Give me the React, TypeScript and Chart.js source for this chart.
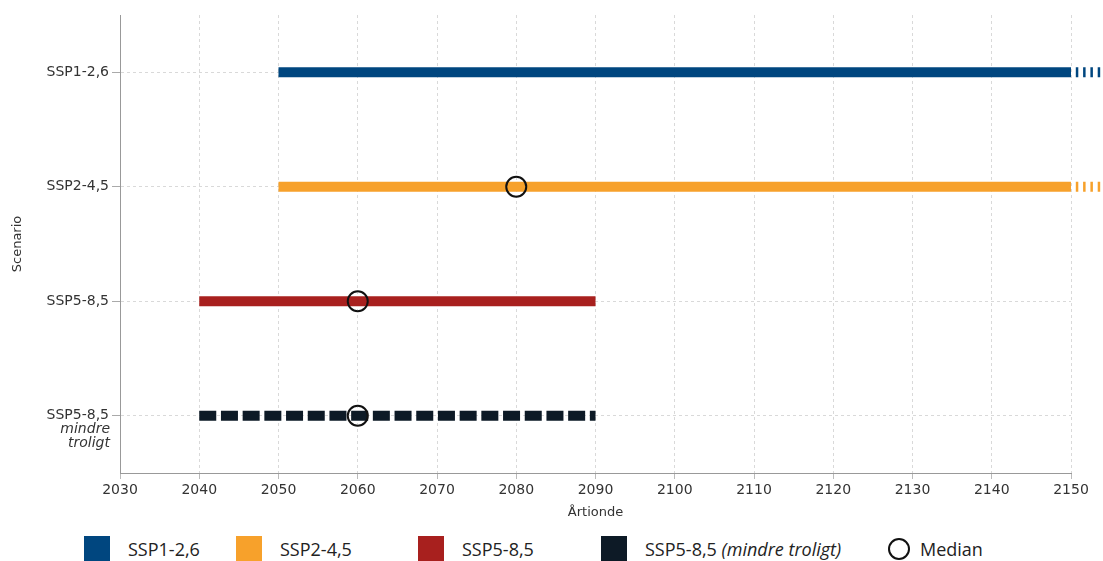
import React, { useEffect, useRef } from 'react';
import { Chart, registerables } from 'chart.js';

Chart.register(...registerables);

// ---- data ----
const scenarios = ['SSP1-2,6', 'SSP2-4,5', 'SSP5-8,5', 'SSP5-8,5 mindre troligt'];
const tickLabels = ['SSP1-2,6', 'SSP2-4,5', 'SSP5-8,5', 'SSP5-8,5'];
const subLabels: string[][] = [[], [], [], ['mindre', 'troligt']];
const rangeStart = [2050, 2050, 2040, 2040];
const rangeEnd = [2150, 2150, 2090, 2090];
const continuesBeyond = [true, true, false, false];
const extensionEnd = 2154;
const medianYears: (number | null)[] = [null, 2080, 2060, 2060];
const dashedRange = [false, false, false, true];
const colors = ['#00467f', '#f7a12b', '#a8201e', '#0d1a26'];
const legendLabels = ['SSP1-2,6', 'SSP2-4,5', 'SSP5-8,5', 'SSP5-8,5'];
const legendItalic = ['', '', '', '(mindre troligt)'];
const medianLabel = 'Median';
const xTitle = 'Årtionde';
const yTitle = 'Scenario';
const xMin = 2030;
const xMax = 2150;
const xStep = 10;

const FONT = '"DejaVu Sans", Verdana, sans-serif';
const TEXT = '#333';

const subLabelPlugin = {
  id: 'subLabels',
  afterDraw(chart: any) {
    const y = chart.scales.y;
    const ctx = chart.ctx;
    ctx.save();
    ctx.font = 'italic 14px ' + FONT;
    ctx.fillStyle = TEXT;
    ctx.textAlign = 'right';
    ctx.textBaseline = 'middle';
    scenarios.forEach((_, i) => {
      const py = y.getPixelForValue(i);
      subLabels[i].forEach((t, j) => ctx.fillText(t, y.right - 10, py + 14 * (j + 1)));
    });
    ctx.restore();
  },
};

export default function App() {
  const ref = useRef<HTMLCanvasElement | null>(null);

  useEffect(() => {
    if (!ref.current) return;
    const datasets: any[] = [];
    datasets.push({
      type: 'scatter',
      label: medianLabel,
      data: scenarios
        .map((s, i) => (medianYears[i] == null ? null : { x: medianYears[i], y: s }))
        .filter((d) => d !== null),
      pointRadius: 10,
      pointHoverRadius: 10,
      pointStyle: 'circle',
      borderColor: '#111',
      borderWidth: 2,
      backgroundColor: 'rgba(0,0,0,0)',
      showLine: false,
      order: 0,
    });
    scenarios.forEach((s, i) => {
      datasets.push({
        type: 'line',
        label: s,
        data: [
          { x: rangeStart[i], y: s },
          { x: rangeEnd[i], y: s },
        ],
        borderColor: colors[i],
        borderWidth: 10,
        borderCapStyle: 'butt',
        borderDash: dashedRange[i] ? [17, 4.7] : [],
        pointRadius: 0,
        order: 1,
      });
      if (continuesBeyond[i]) {
        datasets.push({
          type: 'line',
          label: s + ' ext',
          data: [
            { x: rangeEnd[i], y: s },
            { x: extensionEnd, y: s },
          ],
          borderColor: colors[i],
          borderWidth: 10,
          borderCapStyle: 'butt',
          borderDash: [2.5, 4.8],
          borderDashOffset: 2.5,
          pointRadius: 0,
          clip: false,
          order: 1,
        });
      }
    });

    const chart = new Chart(ref.current, {
      type: 'line',
      data: { labels: scenarios, datasets },
      plugins: [subLabelPlugin],
      options: {
        animation: false,
        responsive: false,
        devicePixelRatio: 1,
        layout: { padding: { top: 15, right: 32, left: 0, bottom: 0 } },
        plugins: { legend: { display: false }, tooltip: { enabled: false } },
        scales: {
          x: {
            type: 'linear',
            min: xMin,
            max: xMax,
            ticks: {
              stepSize: xStep,
              padding: 3,
              color: TEXT,
              font: { family: FONT, size: 14 },
              callback: (v: any) => String(v),
            },
            afterBuildTicks: (axis: any) => {
              axis.ticks = axis.ticks.filter((t: any) => t.value % xStep === 0);
            },
            afterFit: (scale: any) => {
              scale.height = 52;
            },
            grid: { color: '#d9d9d9', drawTicks: true, tickLength: 6, tickColor: '#bbb' },
            border: { color: '#999', width: 1, dash: [3, 3] },
            title: {
              display: true,
              text: xTitle,
              color: TEXT,
              font: { family: FONT, size: 13 },
              padding: { top: 0, bottom: 5 },
            },
          },
          y: {
            type: 'category',
            labels: scenarios,
            offset: true,
            ticks: {
              color: TEXT,
              padding: 3,
              font: { family: FONT, size: 14 },
              callback: (_v: any, i: number) => tickLabels[i],
            },
            afterFit: (scale: any) => {
              scale.width = 120;
            },
            grid: { color: '#d9d9d9', offset: false, tickLength: 8, tickColor: '#aaa' },
            border: { color: '#999', width: 1, dash: [3, 3] },
            title: {
              display: true,
              text: yTitle,
              color: TEXT,
              font: { family: FONT, size: 13 },
              padding: { top: 10, bottom: 4 },
            },
          },
        },
      },
    });
    return () => chart.destroy();
  }, []);

  const itemLefts = [84, 236, 418, 601];
  return (
    <div style={{ position: 'absolute', left: 0, top: 0, width: 1103, height: 561, overflow: 'hidden', background: '#fff' }}>
      <canvas ref={ref} width={1103} height={525} style={{ display: 'block' }} />
      {legendLabels.map((l, i) => (
        <div
          key={i}
          style={{
            position: 'absolute',
            left: itemLefts[i],
            top: 536,
            display: 'flex',
            alignItems: 'flex-start',
            fontFamily: '"Open Sans", sans-serif',
            fontSize: 18,
            color: '#222',
            whiteSpace: 'nowrap',
          }}
        >
          <div style={{ width: 26, height: 26, background: colors[i], marginRight: 18 }} />
          <span style={{ lineHeight: '26px' }}>
            {l}
            {legendItalic[i] ? <i> {legendItalic[i]}</i> : null}
          </span>
        </div>
      ))}
      <div
        style={{
          position: 'absolute',
          left: 888,
          top: 536,
          display: 'flex',
          alignItems: 'flex-start',
          fontFamily: '"Open Sans", sans-serif',
          fontSize: 18,
          color: '#222',
          whiteSpace: 'nowrap',
        }}
      >
        <div style={{ width: 18, height: 18, border: '2px solid #111', borderRadius: '50%', marginTop: 2, marginRight: 10 }} />
        <span style={{ lineHeight: '26px' }}>{medianLabel}</span>
      </div>
    </div>
  );
}
